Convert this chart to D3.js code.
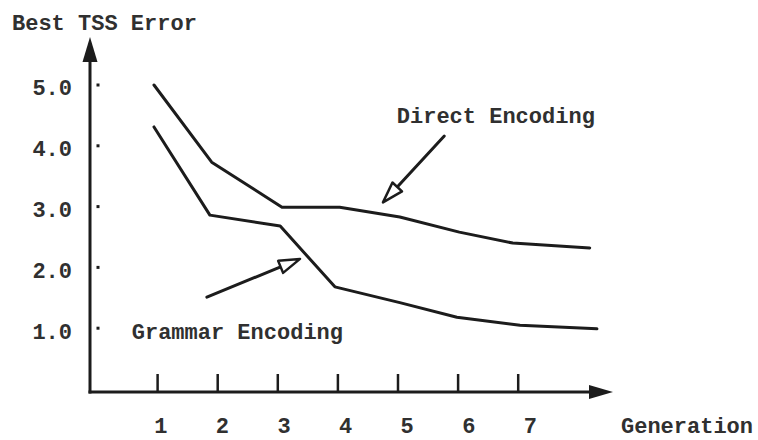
<!DOCTYPE html>
<html>
<head>
<meta charset="utf-8">
<script src="https://cdn.jsdelivr.net/npm/d3@7"></script>
<style>
  html, body { margin: 0; padding: 0; background: #fff; }
  svg { display: block; }
  text { font-family: "Liberation Mono", "DejaVu Sans Mono", monospace; font-weight: bold; fill: #303030; }
</style>
</head>
<body>
<svg id="chart" width="758" height="440"></svg>
<script>
// ---- data ----
const xTicks = [1, 2, 3, 4, 5, 6, 7];
const yTicks = [1.0, 2.0, 3.0, 4.0, 5.0];
const directGen = [0.94, 1.9, 3.07, 4.03, 5.03, 6.02, 6.91, 8.19];
const directErr = [5.0, 3.73, 2.99, 2.99, 2.83, 2.58, 2.40, 2.32];
const grammarGen = [0.94, 1.87, 3.04, 3.95, 5.03, 5.98, 7.03, 8.31];
const grammarErr = [4.31, 2.86, 2.68, 1.68, 1.42, 1.18, 1.05, 0.99];
const seriesNames = ["Direct Encoding", "Grammar Encoding"];
const yTitle = "Best TSS Error";
const xTitle = "Generation";
// annotation anchors in data units: [textGen, textErr, arrowTailGen, arrowTailErr, arrowTipGen, arrowTipErr]
const directNote = [4.98, 4.37, 5.77, 4.16, 4.75, 3.07];
const grammarNote = [0.57, 0.82, 1.82, 1.51, 3.37, 2.14];

// ---- layout ----
const svg = d3.select("#chart");
const x = d3.scaleLinear().domain([0, 8]).range([97.5, 578.3]);
const xLabel = d3.scaleLinear().domain([0, 8]).range([98.7, 591.5]);
const y = d3.scaleLinear().domain([0, 5]).range([389, 85]);
const axisX = 90, axisY = 392;
const ink = "#1c1c1c";

// axes lines
svg.append("line").attr("x1", axisX).attr("x2", axisX).attr("y1", 55).attr("y2", axisY + 1.5)
  .attr("stroke", ink).attr("stroke-width", 3);
svg.append("line").attr("x1", axisX - 1.5).attr("x2", 595).attr("y1", axisY).attr("y2", axisY)
  .attr("stroke", ink).attr("stroke-width", 3);
// arrow heads on axes
svg.append("path").attr("d", `M${axisX},37 L${axisX - 7.5},62 L${axisX + 7.5},62 Z`).attr("fill", ink);
svg.append("path").attr("d", `M613,${axisY} L589,${axisY - 7} L589,${axisY + 7} Z`).attr("fill", ink);

// y axis tick labels via d3 axis
const yAxis = d3.axisLeft(y).tickValues(yTicks).tickFormat(d3.format(".1f")).tickSize(0).tickPadding(18);
const yg = svg.append("g").attr("transform", `translate(${axisX},0)`).call(yAxis);
yg.select(".domain").remove();
yg.selectAll("text").attr("font-size", 22).attr("dy", "0.45em").attr("fill", "#303030")
  .style("font-family", "Liberation Mono").style("font-weight", "bold");
// y tick dots
svg.append("g").selectAll("rect").data(yTicks).join("rect")
  .attr("x", 96.5).attr("y", d => y(d) - 1.5).attr("width", 3).attr("height", 3).attr("fill", ink);

// x tick marks
svg.append("g").selectAll("line").data(xTicks).join("line")
  .attr("x1", d => x(d)).attr("x2", d => x(d)).attr("y1", 374).attr("y2", axisY)
  .attr("stroke", ink).attr("stroke-width", 2.5);
// x tick labels via d3 axis
const xAxis = d3.axisBottom(xLabel).tickValues(xTicks).tickFormat(d3.format("d")).tickSize(0).tickPadding(0);
const xg = svg.append("g").attr("transform", `translate(0,433)`).call(xAxis);
xg.select(".domain").remove();
xg.selectAll("text").attr("font-size", 22).attr("dy", 0).attr("fill", "#303030")
  .style("font-family", "Liberation Mono").style("font-weight", "bold");

// titles
svg.append("text").attr("x", 12).attr("y", 30).attr("font-size", 22).text(yTitle);
svg.append("text").attr("x", 621).attr("y", 433).attr("font-size", 22).text(xTitle);

// series lines
const line = d3.line().x(d => x(d[0])).y(d => y(d[1]));
[[directGen, directErr], [grammarGen, grammarErr]].forEach(([g, e]) => {
  svg.append("path").datum(d3.zip(g, e)).attr("d", line)
    .attr("fill", "none").attr("stroke", ink).attr("stroke-width", 3)
    .attr("stroke-linejoin", "round").attr("stroke-linecap", "round");
});

// annotations
function note(n, label) {
  svg.append("text").attr("x", x(n[0])).attr("y", y(n[1])).attr("font-size", 22).text(label);
  const tx = x(n[2]), ty = y(n[3]), hx = x(n[4]), hy = y(n[5]);
  const dx = hx - tx, dy = hy - ty, len = Math.hypot(dx, dy);
  const ux = dx / len, uy = dy / len, px = -uy, py = ux;
  const headLen = 21, headW = 6.5;
  const bx = hx - ux * headLen, by = hy - uy * headLen;
  svg.append("line").attr("x1", tx).attr("y1", ty).attr("x2", bx).attr("y2", by)
    .attr("stroke", ink).attr("stroke-width", 3).attr("stroke-linecap", "round");
  svg.append("path")
    .attr("d", `M${hx},${hy} L${bx + px * headW},${by + py * headW} L${bx - px * headW},${by - py * headW} Z`)
    .attr("fill", "#fff").attr("stroke", ink).attr("stroke-width", 2.5).attr("stroke-linejoin", "round");
}
note(directNote, seriesNames[0]);
note(grammarNote, seriesNames[1]);
</script>
</body>
</html>
